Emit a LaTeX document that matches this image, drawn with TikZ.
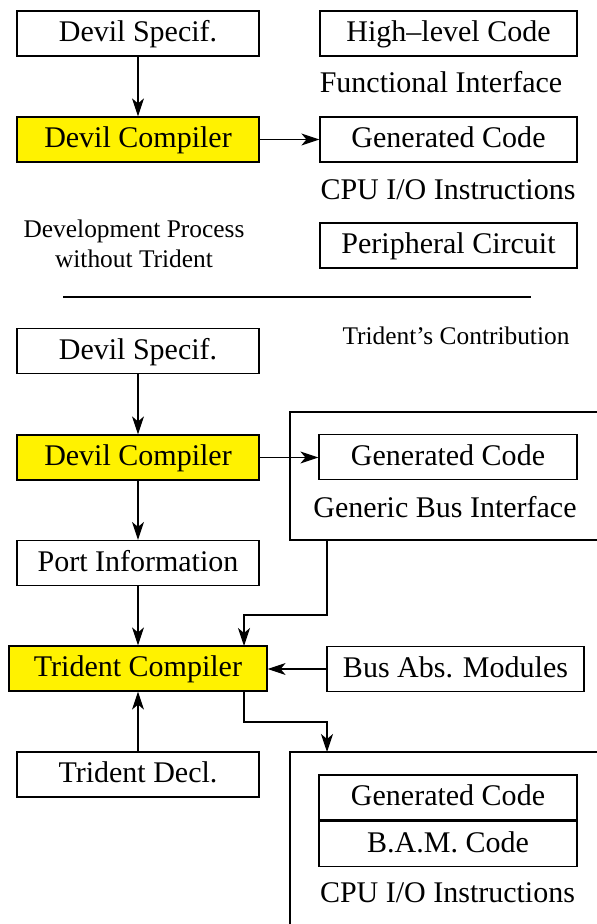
\documentclass[tikz,border=0pt]{standalone}
\usepackage{fontspec}
\setmainfont{Liberation Serif}
\usetikzlibrary{arrows.meta}
\tikzstyle{every node}=[font=\fontsize{15}{18}\selectfont]
\tikzstyle{box}=[draw=black,line width=0.6pt,minimum width=121pt,minimum height=22.5pt,inner sep=0pt,text height=11.5pt,text depth=3.2pt]
\tikzstyle{wide}=[box,minimum width=128.5pt]
\tikzstyle{tool}=[box,fill=yellow]
\tikzstyle{caption}=[inner sep=0pt,anchor=base]
\tikzstyle{note}=[inner sep=0pt,font=\fontsize{12.7}{15}\selectfont,align=center]
\tikzstyle{arr}=[line width=0.6pt,-{Stealth[length=9pt,width=6pt,inset=2.5pt]}]

\begin{document}
\begin{tikzpicture}[x=0.5pt,y=-0.5pt,line width=0.6pt]
  \useasboundingbox (0,0) rectangle (596,924);

  \node[box]  (devspecA) at (138,33.5)  {Devil Specif.};
  \node[tool] (devcompA) at (138,139.5) {Devil Compiler};
  \node[wide] (highlvl)  at (448.5,33.5)  {High--level Code};
  \node[caption] (funcif) at (441,93) {Functional Interface};
  \node[wide] (gencodeA) at (448.5,139.5) {Generated Code};
  \node[caption] (cpuioA) at (448,200) {CPU I/O Instructions};
  \node[wide] (periph)   at (448.5,245.5) {Peripheral Circuit};
  \node[note] (without)  at (134,243.5) {Development Process\\without Trident};

  \draw (63,297) -- (531,297);

  \node[note,anchor=base] (contrib) at (456,344) {Trident's Contribution};
  \node[box]  (devspecB) at (138,351)  {Devil Specif.};
  \node[tool] (devcompB) at (138,457.5) {Devil Compiler};
  \node[box]  (portinfo) at (138,563)  {Port Information};
  \node[tool,minimum width=129pt] (tridcomp) at (138,668.5) {Trident Compiler};
  \node[box]  (triddecl) at (138,774.5) {Trident Decl.};

  \draw (597,412) -| (290,540) -- (597,540);
  \node[wide,minimum width=129pt] (gencodeB) at (448,457) {Generated Code};
  \node[caption] (genbus) at (445,517) {Generic Bus Interface};
  \coordinate (genfoot) at (327,540);

  \node[wide] (busabs) at (455.5,669) {Bus Abs. Modules};

  \draw (597,752) -| (290,925);
  \coordinate (cpuhead) at (327,752);
  \node[wide,minimum width=129pt] (gencodeC) at (448,797.5) {Generated Code};
  \node[wide,minimum width=129pt,anchor=north] (bamcode) at (gencodeC.south) {B.A.M. Code};
  \node[caption] (cpuioB) at (447.5,902) {CPU I/O Instructions};

  \coordinate (tridin)  at (244,646);
  \coordinate (tridout) at (244,691);

  \draw[arr] (devspecA) -- (devcompA);
  \draw[arr] (devcompA) -- (gencodeA);
  \draw[arr] (devspecB) -- (devcompB);
  \draw[arr] (devcompB.east) -- (gencodeB.west |- devcompB.east);
  \draw[arr] (devcompB) -- (portinfo);
  \draw[arr] (portinfo.south) -- (portinfo.south |- tridcomp.north);
  \draw[arr] (genfoot) -- ++(0,75) -| (tridin);
  \draw[arr] (busabs.west) -- (tridcomp.east |- busabs.west);
  \draw[arr] (tridout) -- ++(0,31) -| (cpuhead);
  \draw[arr] (triddecl.north) -- (triddecl.north |- tridcomp.south);
\end{tikzpicture}
\end{document}
